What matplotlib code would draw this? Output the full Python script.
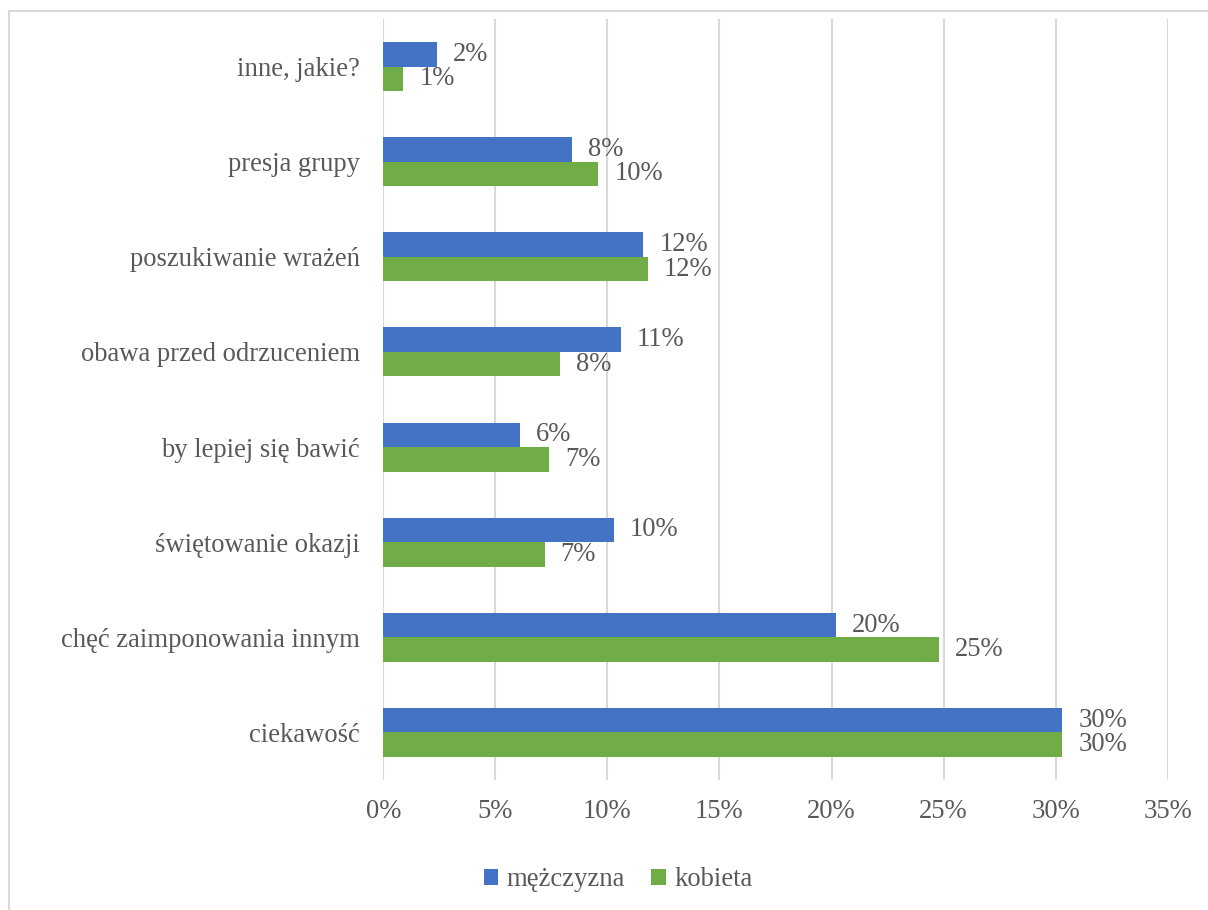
import matplotlib
matplotlib.use("Agg")
import matplotlib.pyplot as plt
from matplotlib.lines import Line2D
import numpy as np

categories = ["ciekawość", "chęć zaimponowania innym", "świętowanie okazji",
              "by lepiej się bawić", "obawa przed odrzuceniem",
              "poszukiwanie wrażeń", "presja grupy", "inne, jakie?"]
men = [30.3, 20.2, 10.3, 6.1, 10.6, 11.6, 8.4, 2.4]
women = [30.3, 24.8, 7.2, 7.4, 7.9, 11.8, 9.6, 0.9]
series_names = ["mężczyzna", "kobieta"]
xticks = [0, 5, 10, 15, 20, 25, 30, 35]

BLUE = "#4472C4"
GREEN = "#70AD47"
TXT = "#595959"
GRID = "#D9D9D9"

plt.rcParams['font.family'] = ['Liberation Serif', 'DejaVu Serif']
FS = 19.2

fig = plt.figure(figsize=(12.08, 9.10), dpi=100)
ax = fig.add_axes([383.3/1208, 1-780/910, (1167.7-383.3)/1208, (780-19)/910])

y = np.arange(len(categories))
h = 0.258
b1 = ax.barh(y + h/2, men, height=h, color=BLUE, label=series_names[0], zorder=3)
b2 = ax.barh(y - h/2, women, height=h, color=GREEN, label=series_names[1], zorder=3)

ax.bar_label(b1, labels=[f"{round(v)}%" for v in men], padding=11.5, fontsize=FS, color=TXT)
ax.bar_label(b2, labels=[f"{round(v)}%" for v in women], padding=11.5, fontsize=FS, color=TXT)

ax.set_xlim(0, 35)
ax.set_ylim(-0.5, len(categories) - 0.5)
ax.set_xticks(xticks)
ax.set_xticklabels([f"{t}%" for t in xticks])
ax.set_yticks(y)
ax.set_yticklabels(categories)
ax.tick_params(axis='x', length=0, pad=14, labelsize=FS, labelcolor=TXT)
ax.tick_params(axis='y', length=0, pad=17, labelsize=FS, labelcolor=TXT)
ax.grid(axis='x', color=GRID, linewidth=1.5, zorder=0)
for s in ax.spines.values():
    s.set_visible(False)

fig.legend(handles=[b1, b2], labels=series_names, loc='center',
           bbox_to_anchor=(618/1208, 1-880/910), ncol=2, frameon=False,
           fontsize=FS, labelcolor=TXT, handlelength=0.55, handleheight=0.55,
           handletextpad=0.3, columnspacing=1.0)

# chart border (top and left visible)
fig.add_artist(Line2D([9/1208, 1], [1-11/910, 1-11/910], color=GRID, linewidth=1.5, transform=fig.transFigure))
fig.add_artist(Line2D([9/1208, 9/1208], [0, 1-11/910], color=GRID, linewidth=1.5, transform=fig.transFigure))

fig.savefig("out.png", dpi=100, facecolor="white")
